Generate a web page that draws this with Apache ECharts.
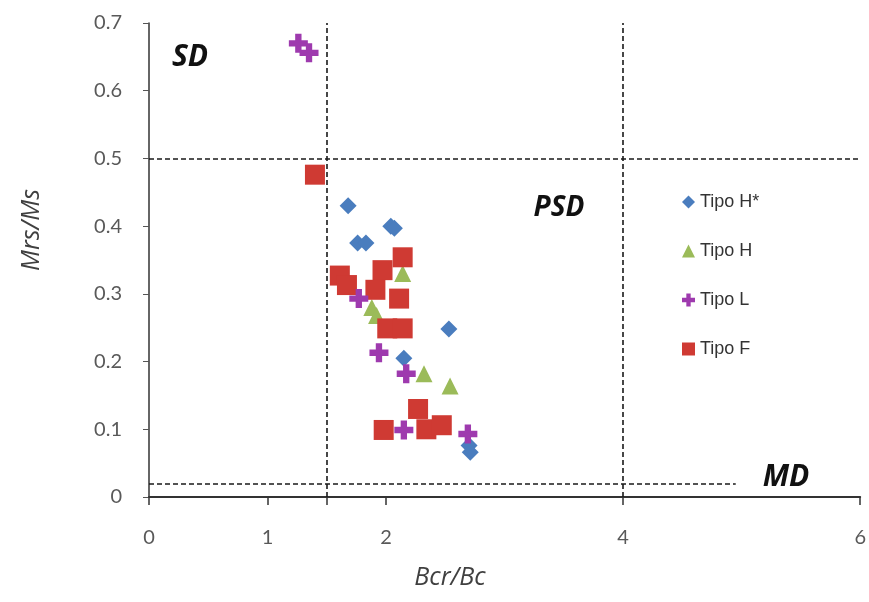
<!DOCTYPE html>
<html>
<head>
<meta charset="utf-8">
<script src="https://cdn.jsdelivr.net/npm/echarts@6.0.0/dist/echarts.min.js"></script>
<style>
  html, body { margin: 0; padding: 0; background: #fff; }
  #main { width: 869px; height: 602px; }
</style>
</head>
<body>
<div id="main"></div>
<script>
// axis ticks
var xTicks = [0, 1, 1.5, 2, 4, 6];
var xLabels = [0, 1, 2, 4, 6];
var yTicks = [0, 0.1, 0.2, 0.3, 0.4, 0.5, 0.6, 0.7];

// samples [Bcr/Bc, Mrs/Ms]
var tipoHStar = [[1.68, 0.43], [2.04, 0.40], [2.07, 0.397], [1.76, 0.375], [1.83, 0.375],
  [2.53, 0.248], [2.15, 0.205], [2.70, 0.076], [2.71, 0.066]];
var tipoH = [[1.88, 0.28], [1.92, 0.268], [2.32, 0.182], [2.54, 0.164], [2.14, 0.33]];
var tipoL = [[1.26, 0.67], [1.35, 0.656], [1.77, 0.293], [1.94, 0.213], [2.17, 0.182],
  [2.15, 0.099], [2.69, 0.093]];
var tipoF = [[1.40, 0.476], [1.61, 0.327], [1.67, 0.313], [1.97, 0.335], [2.14, 0.354],
  [1.91, 0.306], [2.11, 0.293], [2.01, 0.249], [2.14, 0.249], [2.27, 0.13],
  [1.98, 0.099], [2.34, 0.10], [2.47, 0.106]];

// domain limits (SD / PSD / MD)
var bcrLimits = [1.5, 4];
var mrsLimits = [0.5, 0.02];

var plusPath = 'path://M-1,-3H1V-1H3V1H1V3H-1V1H-3V-1H-1Z';
var dash = { type: [5, 3], color: '#1a1a1a', width: 1.6 };

var chart = echarts.init(document.getElementById('main'));

var option = {
  animation: false,
  grid: { left: 149, right: 6, top: 23, bottom: 105 },
  legend: {
    orient: 'vertical',
    left: 677,
    top: 187,
    itemGap: 29,
    itemWidth: 13,
    itemHeight: 13,
    data: ['Tipo H*', 'Tipo H', 'Tipo L', 'Tipo F'],
    textStyle: { fontSize: 18, color: '#333', fontFamily: 'Liberation Sans', lineHeight: 20 }
  },
  xAxis: {
    type: 'value',
    min: 0,
    max: 6,
    splitLine: { show: false },
    axisLine: { lineStyle: { color: '#333', width: 2 } },
    axisTick: { customValues: xTicks, length: 8, lineStyle: { color: '#333', width: 1.5 } },
    axisLabel: {
      customValues: xLabels,
      margin: 31,
      fontSize: 20,
      color: '#595959',
      fontFamily: 'Lato'
    }
  },
  yAxis: {
    type: 'value',
    min: 0,
    max: 0.7,
    interval: 0.1,
    splitLine: { show: false },
    axisLine: { show: true, lineStyle: { color: '#333', width: 1.5 } },
    axisTick: { show: true, customValues: yTicks, length: 6, lineStyle: { color: '#555' } },
    axisLabel: {
      customValues: yTicks,
      margin: 27,
      fontSize: 20,
      color: '#595959',
      fontFamily: 'Lato'
    }
  },
  graphic: [
    { type: 'text', x: 32, y: 230, rotation: Math.PI / 2,
      style: { text: 'Mrs/Ms', font: 'italic 25px "Open Sans"', fill: '#404040', textAlign: 'center', textVerticalAlign: 'middle' } },
    { type: 'text', x: 450, y: 578,
      style: { text: 'Bcr/Bc', font: 'italic 25px "Open Sans"', fill: '#404040', textAlign: 'center', textVerticalAlign: 'middle' } },
    { type: 'text', x: 190, y: 57,
      style: { text: 'SD', font: 'italic bold 30px "Open Sans"', fill: '#111', textAlign: 'center', textVerticalAlign: 'middle' } },
    { type: 'text', x: 559, y: 208,
      style: { text: 'PSD', font: 'italic bold 28px "Open Sans"', fill: '#111', textAlign: 'center', textVerticalAlign: 'middle' } },
    { type: 'text', x: 786, y: 477,
      style: { text: 'MD', font: 'italic bold 30px "Open Sans"', fill: '#111', textAlign: 'center', textVerticalAlign: 'middle' } }
  ],
  series: [
    {
      name: 'limites',
      type: 'scatter',
      data: [],
      markLine: {
        silent: true,
        symbol: ['none', 'none'],
        label: { show: false },
        lineStyle: dash,
        data: [
          [{ coord: [bcrLimits[0], 0] }, { coord: [bcrLimits[0], 0.7] }],
          [{ coord: [bcrLimits[1], 0] }, { coord: [bcrLimits[1], 0.7] }],
          [{ coord: [0, mrsLimits[0]] }, { coord: [6, mrsLimits[0]] }],
          [{ coord: [0, mrsLimits[1]] }, { coord: [4.95, mrsLimits[1]] }]
        ]
      }
    },
    { name: 'Tipo H*', type: 'scatter', symbol: 'diamond', symbolSize: 17,
      itemStyle: { color: '#4A7DBE', opacity: 1 }, data: tipoHStar },
    { name: 'Tipo H', type: 'scatter', symbol: 'triangle', symbolSize: 17,
      itemStyle: { color: '#9BBB59', opacity: 1 }, data: tipoH },
    { name: 'Tipo F', type: 'scatter', symbol: 'rect', symbolSize: 20,
      itemStyle: { color: '#CF3A33', opacity: 1 }, data: tipoF },
    { name: 'Tipo L', type: 'scatter', symbol: plusPath, symbolSize: 19,
      itemStyle: { color: '#9E3AAE', opacity: 1 }, data: tipoL }
  ]
};

chart.setOption(option);
</script>
</body>
</html>
